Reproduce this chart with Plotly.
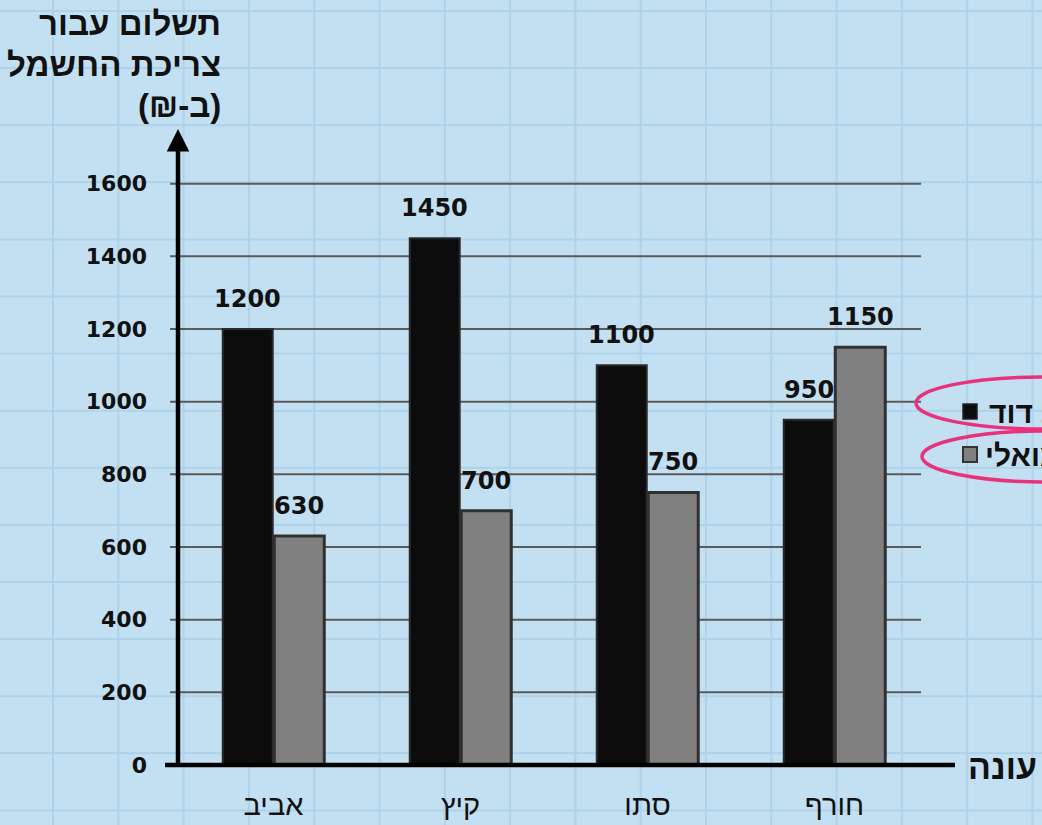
import plotly.graph_objects as go

# ---- data ----
seasons = ["אביב", "קיץ", "סתו", "חורף"]
david = [1200, 1450, 1100, 950]
shmueli = [630, 700, 750, 1150]
series_names = ["משפחת דוד", "משפחת שמואלי"]
y_ticks = [0, 200, 400, 600, 800, 1000, 1200, 1400, 1600]
title_lines = ["תשלום עבור", "צריכת החשמל", "\u200f(ב-₪)\u200f"]
x_title = "עונה"

# ---- geometry ----
W, H = 1042, 825
L, R, T, B = 180, 114, 180, 60
PW, PH = W - L - R, H - T - B
BARGAP = 0.449
GROUPGAP = 0.03
AXIS_X = 178

def px2x(px):
    return (px - L) / PW

def py2y(py):
    return (H - B - py) / PH

HEB = "Liberation Sans, DejaVu Sans, sans-serif"
NUM = "DejaVu Sans, sans-serif"
BG = "#c3e0f2"
PAPERGRID = "#aed2e9"
GRID = "#5a5a5a"

fig = go.Figure()
fig.add_trace(go.Bar(x=seasons, y=david, name=series_names[0],
                     marker=dict(color="#0c0c0c", line=dict(color="#2a2a2a", width=2))))
fig.add_trace(go.Bar(x=seasons, y=shmueli, name=series_names[1],
                     marker=dict(color="#808080", line=dict(color="#303030", width=3))))

shapes = []
# graph-paper background
for k in range(17):
    xp = 53 + 65.3 * k
    shapes.append(dict(type="line", xref="paper", yref="paper", layer="below",
                       x0=px2x(xp), x1=px2x(xp), y0=py2y(0), y1=py2y(H),
                       line=dict(color=PAPERGRID, width=2)))
for k in range(15):
    yp = 11 + 57.1 * k
    shapes.append(dict(type="line", xref="paper", yref="paper", layer="below",
                       x0=px2x(0), x1=px2x(W), y0=py2y(yp), y1=py2y(yp),
                       line=dict(color=PAPERGRID, width=2)))
# chart gridlines with the little outside tick
for t in y_ticks[1:]:
    shapes.append(dict(type="line", xref="paper", yref="y", layer="below",
                       x0=px2x(170), x1=px2x(921), y0=t, y1=t,
                       line=dict(color=GRID, width=2)))
# x axis line (extends beyond plot)
shapes.append(dict(type="line", xref="paper", yref="paper", layer="above",
                   x0=px2x(165), x1=px2x(955), y0=0, y1=0,
                   line=dict(color="#000000", width=4.5)))
# legend keys
shapes.append(dict(type="rect", xref="paper", yref="paper", layer="above",
                   x0=px2x(963), x1=px2x(977), y0=py2y(404), y1=py2y(419),
                   fillcolor="#0c0c0c", line=dict(color="#222222", width=1.5)))
shapes.append(dict(type="rect", xref="paper", yref="paper", layer="above",
                   x0=px2x(963), x1=px2x(977), y0=py2y(447), y1=py2y(462),
                   fillcolor="#808080", line=dict(color="#333333", width=2)))
# pink ellipses
shapes.append(dict(type="circle", xref="paper", yref="paper", layer="above",
                   x0=px2x(916), x1=px2x(1170), y0=py2y(377), y1=py2y(429),
                   line=dict(color="#e8337c", width=3.5)))
shapes.append(dict(type="circle", xref="paper", yref="paper", layer="above",
                   x0=px2x(922), x1=px2x(1170), y0=py2y(431), y1=py2y(482),
                   line=dict(color="#e8337c", width=3.5)))

annotations = []
# bar value labels
slot = PW / len(seasons) * (1 - BARGAP) / 2
for vals, sgn in ((david, -1), (shmueli, 1)):
    for s, v in zip(seasons, vals):
        annotations.append(dict(x=s, y=v, xref="x", yref="y", text=str(v),
                                showarrow=False, yanchor="bottom", xshift=sgn * slot / 2,
                                yshift=14, font=dict(family=NUM, size=24, color="#111111",
                                                     weight="bold")))
# y axis with arrow
annotations.append(dict(xref="paper", yref="paper", x=px2x(AXIS_X), y=py2y(129),
                        ax=0, ay=767 - 129,
                        axref="pixel", ayref="pixel", showarrow=True, text="",
                        arrowhead=2, arrowsize=1, arrowwidth=4.5, arrowcolor="#000000"))
# y title
for i, line in enumerate(title_lines):
    annotations.append(dict(xref="paper", yref="paper", x=px2x(223), y=py2y(23 + 41 * i),
                            xanchor="right", yanchor="middle", showarrow=False, text=line,
                            font=dict(family=HEB, size=33, color="#111111", weight="bold")))
# x title
annotations.append(dict(xref="paper", yref="paper", x=px2x(966), y=py2y(767),
                        xanchor="left", yanchor="middle", showarrow=False, text=x_title,
                        font=dict(family=HEB, size=34, color="#111111", weight="bold")))
# legend texts
for name, xp, yp in zip(series_names, (987, 983), (412, 455)):
    annotations.append(dict(xref="paper", yref="paper", x=px2x(xp), y=py2y(yp),
                            xanchor="left", yanchor="middle", showarrow=False, text=name,
                            font=dict(family=HEB, size=30, color="#111111", weight="bold")))

fig.update_layout(
    width=W, height=H,
    margin=dict(l=L, r=R, t=T, b=B, autoexpand=False),
    paper_bgcolor=BG, plot_bgcolor="rgba(0,0,0,0)",
    barmode="group", bargap=BARGAP, bargroupgap=GROUPGAP,
    showlegend=False,
    shapes=shapes, annotations=annotations,
    xaxis=dict(showline=False, showgrid=False, ticks="", zeroline=False,
               tickfont=dict(family=HEB, size=29, color="#111111"),
               ticklabelstandoff=20, fixedrange=True),
    yaxis=dict(range=[0, 1610], tickvals=y_ticks, showgrid=False,
               zeroline=False, showline=False, ticks="",
               tickfont=dict(family=NUM, size=22, color="#111111", weight="bold"),
               ticklabelstandoff=32, fixedrange=True),
)

fig.write_html("out.html")
